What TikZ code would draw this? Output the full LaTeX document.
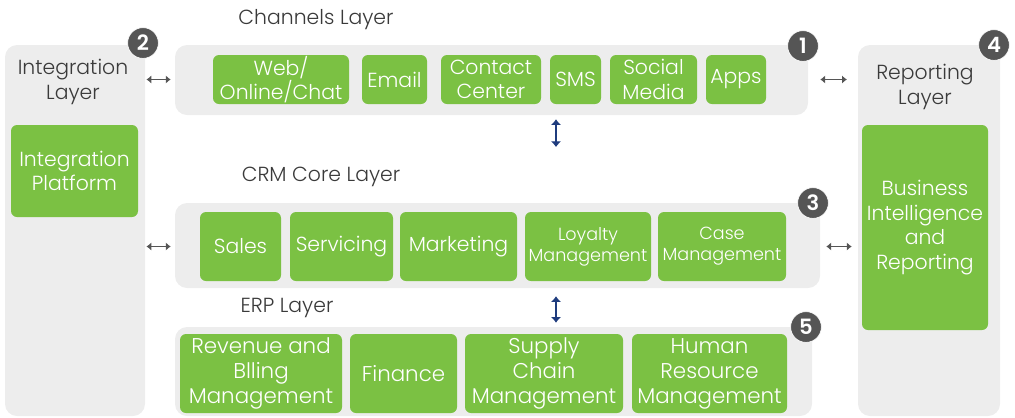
\documentclass[tikz,border=0pt]{standalone}
\usepackage{fontspec}
\setmainfont{Poppins}[UprightFont=* Light, BoldFont=* SemiBold]
\usepackage{xcolor}
\usetikzlibrary{arrows.meta, fit}

\definecolor{panelgray}{HTML}{EDEDED}
\definecolor{boxgreen}{HTML}{7BC143}
\definecolor{labelgray}{HTML}{3A3A3A}
\definecolor{badgegray}{HTML}{555555}
\definecolor{linkblue}{HTML}{1F3C7E}

\newlength\px
\setlength\px{0.025cm}

\begin{document}
\begin{tikzpicture}[x=\px, y=-\px,
    panel/.style={rectangle, rounded corners=0.3cm, fill=panelgray, inner sep=0pt},
    box/.style={rectangle, rounded corners=0.15cm, fill=boxgreen, text=white, inner sep=0pt, align=center, font=\fontsize{14.5}{17.5}\selectfont},
    chbox/.style={box, minimum height=49\px},
    crmbox/.style={box, minimum height=69\px},
    erpbox/.style={box, minimum height=79\px, font=\fontsize{15.2}{17.8}\selectfont},
    smallbox/.style={crmbox, font=\fontsize{12.5}{15}\selectfont},
    title/.style={text=labelgray, align=center, font=\fontsize{14.5}{18}\selectfont},
    badge/.style={circle, fill=badgegray, draw=white, line width=0.5pt, minimum size=0.77cm, inner sep=0pt, text=white, font=\fontsize{15}{15}\selectfont\bfseries},
    arrow/.style={line width=1.4pt, draw=badgegray, {Latex[length=3.5pt,width=6pt]}-{Latex[length=3.5pt,width=6pt]}},
    varrow/.style={line width=2pt, draw=linkblue, {Latex[length=4pt,width=7.5pt]}-{Latex[length=4pt,width=7.5pt]}}
]
\useasboundingbox (0,0) rectangle (1015,417);

% side panels
\node[panel, fit={(5,45) (145,416)}] (intl) {};
\node[panel, fit={(858,45) (1000,416)}] (rep) {};
\node[title] (intltitle) at (73,82) {Integration\\Layer};
\node[title] (reptitle) at (925,87) {Reporting\\Layer};
\node[box, minimum width=127\px, minimum height=92\px] (intp) at (74.5,171) {Integration\\Platform};
\node[box, minimum width=126\px, minimum height=205\px] (bi) at (925,227.5) {Business\\Intelligence\\and\\Reporting};

% channels
\node[title] (chantitle) at (316,20) {Channels Layer};
\node[panel, fit={(175,45) (808,115)}] (chan) {};
\node[chbox, minimum width=136\px] (web) at (281,79.5) {Web/\\Online/Chat};
\node[chbox, minimum width=65\px] (email) at (394.5,79.5) {Email};
\node[chbox, minimum width=100\px] (contact) at (491,79.5) {Contact\\Center};
\node[chbox, minimum width=51\px] (sms) at (575.5,79.5) {SMS};
\node[chbox, minimum width=87\px] (social) at (653.5,79.5) {Social\\Media};
\node[chbox, minimum width=60\px] (apps) at (736,79.5) {Apps};

% crm core
\node[title] (crmtitle) at (321,177) {CRM Core Layer};
\node[panel, fit={(175,203) (820,288)}] (crm) {};
\node[crmbox, minimum width=81\px] (sales) at (240.5,246.5) {Sales};
\node[crmbox, minimum width=103\px] (serv) at (341.5,246.5) {Servicing};
\node[crmbox, minimum width=117\px] (mkt) at (458.5,246.5) {Marketing};
\node[smallbox, minimum width=126\px] (loyal) at (588,246.5) {Loyalty\\Management};
\node[smallbox, minimum width=128\px] (case) at (722,246.5) {Case\\Management};

% erp
\node[title] (erptitle) at (287,308) {ERP Layer};
\node[panel, fit={(175,327) (812,416)}] (erp) {};
\node[erpbox, minimum width=162\px] (rev) at (261,373.5) {Revenue and\\Blling\\Management};
\node[erpbox, minimum width=107\px] (fin) at (403.5,373.5) {Finance};
\node[erpbox, minimum width=158\px] (supply) at (544,373.5) {Supply\\Chain\\Management};
\node[erpbox, minimum width=155\px] (hr) at (709.5,373.5) {Human\\Resource\\Management};

% numbered markers
\node[badge] (b1) at (803,46) {1};
\node[badge] (b2) at (143,43) {2};
\node[badge] (b3) at (813,203) {3};
\node[badge] (b4) at (994,45) {4};
\node[badge] (b5) at (806,327) {5};

% links between layers
\coordinate (mid) at (556,0);
\coordinate (crmtop) at (556,147);
\draw[arrow, shorten <=0.03cm, shorten >=0.1cm] (intl.east |- web) -- (chan.west |- web);
\draw[arrow, shorten <=0.03cm, shorten >=0.1cm] (intl.east |- sales) -- (crm.west |- sales);
\draw[arrow, shorten <=0.3cm, shorten >=0.27cm] (chan.east |- apps) -- (rep.west |- apps);
\draw[arrow, shorten <=0.15cm, shorten >=0.15cm] (crm.east |- case) -- (rep.west |- case);
\draw[varrow, shorten <=0.1cm] (chan.south -| mid) -- (crmtop);
\draw[varrow, shorten <=0.2cm, shorten >=0.1cm] (crm.south -| mid) -- (erp.north -| mid);

\end{tikzpicture}
\end{document}
